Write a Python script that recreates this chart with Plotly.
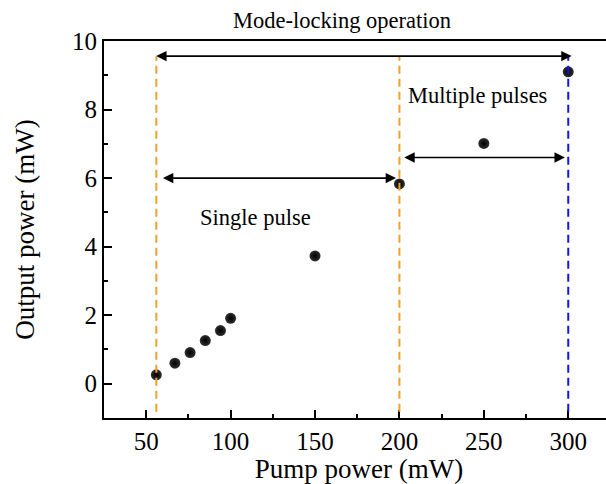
import plotly.graph_objects as go

# ---- data ----
pump_power = [56, 67, 76, 85, 94, 100, 150, 200, 250, 300]
output_power = [0.26, 0.60, 0.91, 1.26, 1.55, 1.91, 3.73, 5.83, 7.01, 9.10]

boundary_x = [56, 200, 300]
boundary_colors = ["#F0A030", "#F0A030", "#1515E6"]
boundary_top = 9.55
boundary_bottom = -0.82

arrow_y = [9.56, 6.0, 6.6]
arrow_x0 = [55, 59, 202]
arrow_x1 = [302, 198, 298]

label_text = ["Single pulse", "Multiple pulses"]
label_x = [115, 246]
label_y = [4.84, 8.42]

title_text = "Mode-locking operation"
title_x = 166

x_ticks = [50, 100, 150, 200, 250, 300]
y_ticks = [0, 2, 4, 6, 8, 10]
x_range = [25, 327.1]
y_range = [-1, 10]

FONT = "Liberation Serif, Times New Roman, serif"

fig = go.Figure()

fig.add_trace(go.Scatter(
    x=pump_power, y=output_power, mode="markers",
    marker=dict(size=11, color="#303030",
                gradient=dict(type="radial", color="#000000"),
                line=dict(width=0)),
    showlegend=False, cliponaxis=False,
))

for bx, bc in zip(boundary_x, boundary_colors):
    fig.add_shape(type="line", xref="x", yref="y",
                  x0=bx, x1=bx, y0=boundary_bottom, y1=boundary_top,
                  line=dict(color=bc, width=2, dash="8px,5px"))

for ay, ax0, ax1 in zip(arrow_y, arrow_x0, arrow_x1):
    fig.add_annotation(x=ax1, y=ay, ax=ax0, ay=ay, xref="x", yref="y",
                       axref="x", ayref="y", text="", showarrow=True,
                       arrowhead=2, arrowside="end+start", arrowsize=1.3,
                       arrowwidth=1.6, arrowcolor="black", standoff=0,
                       startstandoff=0)

for t, lx, ly in zip(label_text, label_x, label_y):
    fig.add_annotation(x=lx, y=ly, xref="x", yref="y", text=t,
                       showarrow=False, font=dict(family=FONT, size=22.5, color="black"))

fig.add_annotation(x=title_x, y=1.0, xref="x", yref="paper", yanchor="bottom",
                   yshift=6, text=title_text, showarrow=False,
                   font=dict(family=FONT, size=22.5, color="black"))

fig.update_xaxes(
    range=x_range, tickvals=x_ticks, ticks="inside", ticklen=8, tickwidth=2,
    tickcolor="black", showline=True, linewidth=2, linecolor="black",
    mirror=True, showgrid=False, zeroline=False, automargin=False,
    tickfont=dict(family=FONT, size=25, color="black"),
    minor=dict(dtick=25, tick0=0, ticks="inside", ticklen=4, tickwidth=2, tickcolor="black", showgrid=False),
    title=dict(text="Pump power (mW)", font=dict(family=FONT, size=27, color="black"), standoff=4),
)
fig.update_yaxes(
    range=y_range, tickvals=y_ticks, ticks="inside", ticklen=8, tickwidth=2,
    tickcolor="black", showline=True, linewidth=2, linecolor="black",
    mirror=False, showgrid=False, zeroline=False, automargin=False,
    tickfont=dict(family=FONT, size=25, color="black"),
    minor=dict(dtick=1, tick0=0, ticks="inside", ticklen=4, tickwidth=2, tickcolor="black", showgrid=False),
    title=dict(text="Output power (mW)", font=dict(family=FONT, size=27, color="black"), standoff=30),
)

fig.update_layout(
    width=614, height=484,
    margin=dict(l=104, r=0, t=41, b=66),
    paper_bgcolor="white", plot_bgcolor="white",
    showlegend=False,
)

fig.write_html("out.html", config={"displayModeBar": False},
               post_script="document.body.style.margin='0';document.body.style.overflow='hidden';")
